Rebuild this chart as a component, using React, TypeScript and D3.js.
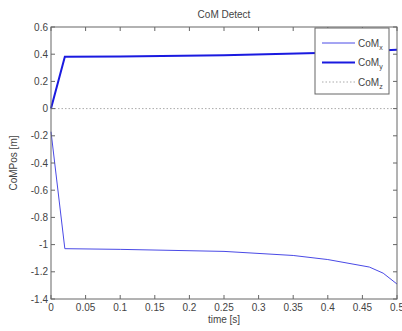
import React from "react";
import * as d3 from "d3";

const comXTime = [0, 0.02, 0.1, 0.25, 0.35, 0.4, 0.46, 0.48, 0.5];
const comXVal = [-0.17, -1.03, -1.035, -1.05, -1.08, -1.11, -1.165, -1.21, -1.29];
const comYTime = [0, 0.02, 0.1, 0.25, 0.4, 0.5];
const comYVal = [0, 0.382, 0.383, 0.392, 0.41, 0.433];
const comZTime = [0, 0.5];
const comZVal = [0, 0];
const xTicks = [0, 0.05, 0.1, 0.15, 0.2, 0.25, 0.3, 0.35, 0.4, 0.45, 0.5];
const yTicks = [0.6, 0.4, 0.2, 0, -0.2, -0.4, -0.6, -0.8, -1, -1.2, -1.4];
const legendNames = ["x", "y", "z"];

export default function App() {
  const W = 402, H = 331;
  const L = 51, R = 397, T = 27, B = 299;
  const x = d3.scaleLinear().domain([0, 0.5]).range([L, R]);
  const y = d3.scaleLinear().domain([-1.4, 0.6]).range([B, T]);
  const line = d3.line<[number, number]>().x(d => x(d[0])).y(d => y(d[1]));
  const mk = (t: number[], v: number[]) => t.map((tt, i) => [tt, v[i]] as [number, number]);
  const font = "Liberation Sans, Arial, sans-serif";
  const txt = "#444";
  const axisCol = "#666";
  const tick = 4;
  const styles = [
    { stroke: "#4a4ae6", width: 1, dash: "" },
    { stroke: "#1a1ae0", width: 2, dash: "" },
    { stroke: "#aaa", width: 1, dash: "1.5,2" },
  ];
  return (
    <svg width={W} height={H} style={{ position: "absolute", left: 0, top: 0, background: "#fff" }}>
      <rect x={0} y={0} width={W} height={H} fill="#fff" />
      <path d={line(mk(comZTime, comZVal)) || ""} fill="none" stroke="#aaa" strokeWidth={1} strokeDasharray="1.5,2" />
      <path d={line(mk(comXTime, comXVal)) || ""} fill="none" stroke="#4a4ae6" strokeWidth={1} />
      <path d={line(mk(comYTime, comYVal)) || ""} fill="none" stroke="#1a1ae0" strokeWidth={2} />
      <rect x={L} y={T} width={R - L} height={B - T} fill="none" stroke={axisCol} strokeWidth={1} />
      {xTicks.map((t, i) => (
        <g key={"x" + i}>
          <line x1={x(t)} x2={x(t)} y1={B} y2={B - tick} stroke={axisCol} />
          <line x1={x(t)} x2={x(t)} y1={T} y2={T + tick} stroke={axisCol} />
          <text x={x(t)} y={B + 12} fontSize={10} fontFamily={font} fill={txt} textAnchor="middle">{String(t)}</text>
        </g>
      ))}
      {yTicks.map((t, i) => (
        <g key={"y" + i}>
          <line x1={L} x2={L + tick} y1={y(t)} y2={y(t)} stroke={axisCol} />
          <line x1={R} x2={R - tick} y1={y(t)} y2={y(t)} stroke={axisCol} />
          <text x={L - 3} y={y(t) + 3.5} fontSize={10} fontFamily={font} fill={txt} textAnchor="end">{String(t)}</text>
        </g>
      ))}
      <text x={(L + R) / 2} y={18} fontSize={10} fontFamily={font} fill={txt} textAnchor="middle">CoM Detect</text>
      <text x={(L + R) / 2} y={323} fontSize={10} fontFamily={font} fill={txt} textAnchor="middle">time [s]</text>
      <text transform={`translate(17,${(T + B) / 2}) rotate(-90)`} fontSize={10} fontFamily={font} fill={txt} textAnchor="middle">CoMPos [m]</text>
      <rect x={315} y={28} width={74} height={66} fill="#fff" stroke={axisCol} strokeWidth={1} />
      {legendNames.map((n, i) => {
        const ly = 43 + i * 19.5;
        const s = styles[i];
        return (
          <g key={"l" + i}>
            <line x1={322} x2={355} y1={ly} y2={ly} stroke={s.stroke} strokeWidth={s.width} strokeDasharray={s.dash} />
            <text x={358} y={ly + 3.5} fontSize={10} fontFamily={font} fill={txt}>
              CoM<tspan fontSize={7} dy={3}>{n}</tspan>
            </text>
          </g>
        );
      })}
    </svg>
  );
}
